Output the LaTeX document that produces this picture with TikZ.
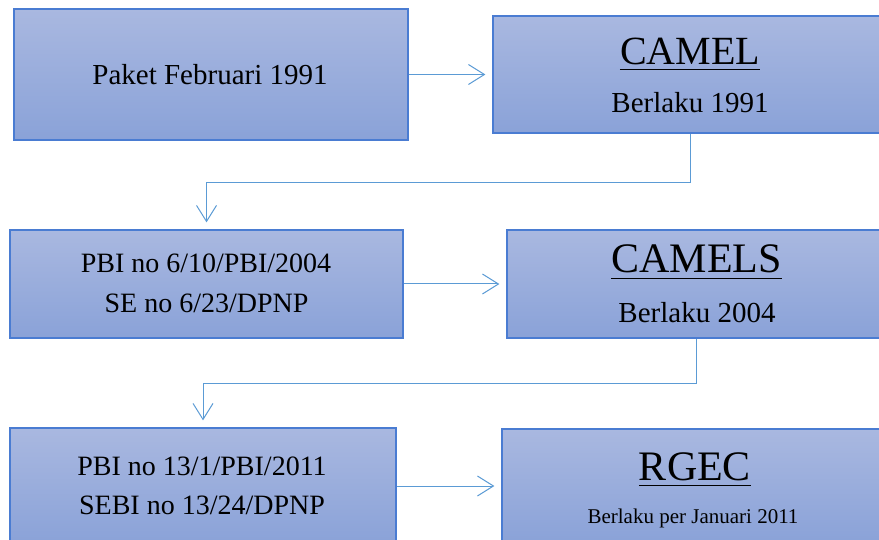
\documentclass[tikz,border=0pt]{standalone}
\usepackage{fontspec}
\setmainfont{Liberation Serif}
\usetikzlibrary{arrows.meta}
\definecolor{boxtop}{HTML}{A9B8E0}
\definecolor{boxbot}{HTML}{8AA2D8}
\definecolor{boxline}{HTML}{4A7CD2}
\definecolor{arrowc}{HTML}{5B9BD5}
\tikzset{
  box/.style={rectangle, draw=boxline, line width=1.3pt, top color=boxtop, bottom color=boxbot, inner sep=0pt},
  txt/.style={inner sep=0pt, anchor=base},
  conn/.style={draw=arrowc, line width=1pt, shorten >=7pt, -{Straight Barb[length=16pt,width=20pt]}},
  uline/.style={line width=1.3pt, black},
}
\begin{document}
\begin{tikzpicture}[x=1pt,y=-1pt]
\useasboundingbox (0,0) rectangle (879,540);
\clip (0,0) rectangle (879,540);
\fill[white] (0,0) rectangle (879,540);
% boxes
\node[box, minimum width=394pt, minimum height=131pt] (b1) at (211,74.5) {};
\node[box, minimum width=394pt, minimum height=117pt] (b2) at (690,74.5) {};
\node[box, minimum width=393pt, minimum height=108pt] (b3) at (206.5,284) {};
\node[box, minimum width=379pt, minimum height=108pt] (b4) at (696.5,284) {};
\node[box, minimum width=386pt, minimum height=116pt] (b5) at (203,486) {};
\node[box, minimum width=385pt, minimum height=114pt] (b6) at (694.5,486) {};
% texts
\node[txt, font=\fontsize{29}{34}\selectfont] (t1) at (210,85) {Paket Februari 1991};
\node[txt, font=\fontsize{40}{48}\selectfont] (t2a) at (690,65) {CAMEL};
\node[txt, font=\fontsize{29}{34}\selectfont] (t2b) at (690,113) {Berlaku 1991};
\node[txt, font=\fontsize{28}{34}\selectfont] (t3a) at (206,273) {PBI no 6/10/PBI/2004};
\node[txt, font=\fontsize{28}{34}\selectfont] (t3b) at (206.5,313) {SE no 6/23/DPNP};
\node[txt, font=\fontsize{42}{50}\selectfont] (t4a) at (696.5,273) {CAMELS};
\node[txt, font=\fontsize{29}{34}\selectfont] (t4b) at (697,323) {Berlaku 2004};
\node[txt, font=\fontsize{28}{34}\selectfont] (t5a) at (202,475) {PBI no 13/1/PBI/2011};
\node[txt, font=\fontsize{28}{34}\selectfont] (t5b) at (202,514) {SEBI no 13/24/DPNP};
\node[txt, font=\fontsize{42}{50}\selectfont] (t6a) at (695,480) {RGEC};
\node[txt, font=\fontsize{21}{25}\selectfont] (t6b) at (693,523) {Berlaku per Januari 2011};
% underlines
\draw[uline] ([yshift=-4.5pt]t2a.base west) -- ([yshift=-4.5pt]t2a.base east);
\draw[uline] ([yshift=-5.5pt]t4a.base west) -- ([yshift=-5.5pt]t4a.base east);
\draw[uline] ([yshift=-5.5pt]t6a.base west) -- ([yshift=-5.5pt]t6a.base east);
% connectors
\draw[conn] (b1.east) -- (b2.west |- b1.east);
\draw[conn] (b3.east) -- (b4.west |- b3.east);
\draw[conn] (b5.east) -- (b6.west |- b5.east);
\draw[conn] (b2.south) -- ++(0,49) -| (b3.north);
\draw[conn] (b4.south) -- ++(0,45) -| (b5.north);
\end{tikzpicture}
\end{document}
